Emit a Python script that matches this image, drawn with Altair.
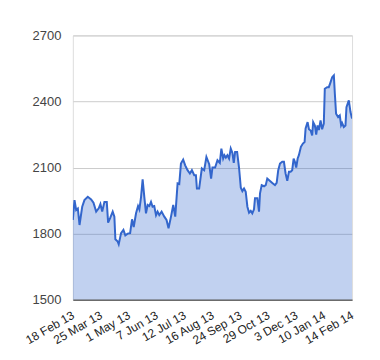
import altair as alt
import pandas as pd

# trading-day index (0 = 18 Feb 13, 250 = 14 Feb 14) and closing values
day_index = [0, 1.5, 3.0, 4.5, 6.0, 8.4, 10.4, 13.4, 16.4, 18.5, 20.9, 23.2, 24.7, 26.3, 28.3, 30.4,
             31.6, 33.4, 35.7, 37.2, 38.1, 40.2, 41.1, 43.2, 45.3, 47.0, 49.1, 51.3, 53.0, 54.5, 56.6,
             58.4, 59.6, 61.1, 62.5, 64.0, 65.5, 67.0, 68.5, 70.0, 71.4, 72.9, 74.5, 75.9, 77.4, 79.5,
             81.9, 83.9, 85.7, 87.9, 89.9, 91.7, 93.8, 95.3, 96.8, 98.8, 100.6, 102.7, 104.8, 106.6,
             108.7, 110.2, 111.1, 113.1, 115.5, 117.6, 119.6, 122.1, 123.8, 125.0, 127.4, 129.5, 131.6,
             133.0, 134.6, 135.7, 137.0, 138.4, 139.9, 141.4, 142.9, 144.1, 145.3, 147.1, 148.8, 150.4,
             151.8, 153.3, 154.8, 156.3, 157.8, 159.3, 160.7, 162.2, 163.1, 165.2, 166.7, 167.6, 169.1,
             171.2, 172.7, 174.1, 176.3, 178.6, 181.0, 182.5, 183.9, 185.5, 187.5, 189.0, 190.5, 192.0,
             193.5, 195.0, 196.4, 197.7, 198.8, 200.0, 201.3, 202.4, 204.2, 206.0, 207.5, 208.4, 210.2,
             211.4, 212.9, 214.3, 215.2, 216.7, 217.9, 219.1, 220.3, 221.8, 223.2, 224.7, 225.6, 227.7,
             229.2, 230.7, 232.2, 233.7, 234.6, 235.7, 237.5, 239.0, 240.2, 241.1, 242.6, 244.1, 245.0,
             247.1, 248.6, 250]
price = [1862, 1952, 1907, 1914, 1839, 1922, 1952, 1967, 1955, 1940, 1900, 1915, 1934, 1900, 1944, 1944,
         1850, 1870, 1900, 1877, 1774, 1764, 1752, 1802, 1817, 1792, 1800, 1802, 1865, 1830, 1892,
         1925, 1910, 1967, 2046, 1967, 1892, 1930, 1925, 1944, 1922, 1925, 1884, 1900, 1884, 1900,
         1877, 1862, 1824, 1877, 1930, 1877, 2028, 2025, 2118, 2136, 2110, 2088, 2073, 2088,
         2065, 2065, 2005, 2005, 2096, 2088, 2148, 2115, 2050, 2100, 2100, 2133, 2121,
         2186, 2141, 2156, 2145, 2156, 2141, 2186, 2166, 2121, 2171, 2171, 2100, 2008,
         1993, 2005, 1990, 1922, 1895, 1903, 1892, 1910, 1960, 1960, 1900, 1983, 2020,
         2015, 2020, 2050, 2040, 2030, 2020, 2030, 2088, 2118, 2126, 2126, 2073, 2040,
         2081, 2081, 2088, 2141, 2126, 2100, 2141, 2156, 2194, 2209, 2216, 2277, 2306,
         2274, 2268, 2246, 2306, 2291, 2250, 2291, 2270, 2314, 2274, 2299, 2458, 2465,
         2465, 2487, 2510, 2518, 2435, 2344, 2329, 2337, 2292, 2302, 2284, 2291, 2374,
         2405, 2352, 2322]

tick_positions = [0, 25, 50, 75, 100, 125, 150, 175, 200, 225, 250]
tick_labels = ["18 Feb 13", "25 Mar 13", "1 May 13", "7 Jun 13", "12 Jul 13", "16 Aug 13",
               "24 Sep 13", "29 Oct 13", "3 Dec 13", "10 Jan 14", "14 Feb 14"]
y_ticks = [1500, 1800, 2100, 2400, 2700]

df = pd.DataFrame({"i": day_index, "v": price})

label_expr = " : ".join(
    f"datum.value == {p} ? '{l}'" for p, l in zip(tick_positions, tick_labels)
) + " : ''"

FONT = "Liberation Sans"

x_enc = alt.X("i:Q",
              scale=alt.Scale(domain=[0, 250], nice=False, zero=False),
              axis=alt.Axis(values=tick_positions, labelExpr=label_expr, labelAngle=-30,
                            labelAlign="right", labelBaseline="middle", labelPadding=14,
                            labelFont=FONT, labelFontSize=12, labelColor="#222222",
                            ticks=False, grid=False, domain=True, domainColor="#333333",
                            domainWidth=1, title=None, labelOverlap=False, labelBound=False,
                            labelFlush=False, zindex=1))
y_enc = alt.Y("v:Q",
              scale=alt.Scale(domain=[1500, 2700], nice=False, zero=False),
              axis=alt.Axis(values=y_ticks, labelFont=FONT, labelFontSize=13,
                            labelColor="#444444", labelPadding=12, ticks=False, domain=False,
                            grid=True, gridColor="#cccccc", gridWidth=1, title=None,
                            format="d", labelOverlap=False))

base = alt.Chart(df).encode(x=x_enc, y=y_enc)
area = base.mark_area(color="#3366cc", opacity=0.3, interpolate="linear", clip=True)
line = base.mark_line(color="#3366cc", strokeWidth=2, clip=True)

chart = (area + line).properties(
    width=280, height=265,
    autosize=alt.AutoSizeParams(type="none"),
    padding={"left": 65, "top": 27, "right": 20, "bottom": 50},
).configure_view(stroke=None).configure_axis(labelOverlap=False).configure(background="white")

chart.save("out.html", embed_options={"renderer": "svg", "actions": False})
